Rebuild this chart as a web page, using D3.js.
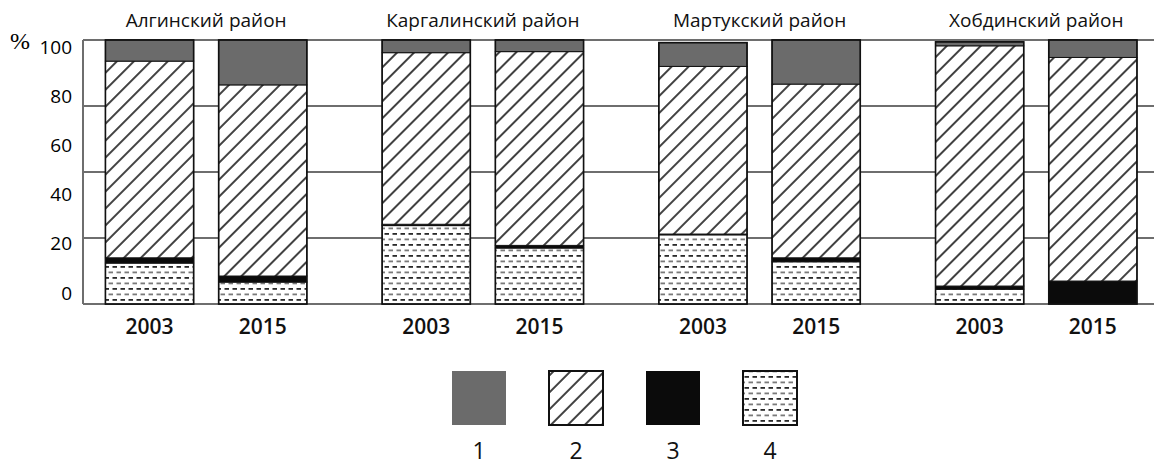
<!DOCTYPE html>
<html>
<head>
<meta charset="utf-8">
<script src="https://cdn.jsdelivr.net/npm/d3@7"></script>
<style>
  html, body { margin: 0; padding: 0; background: #fff; }
  svg { display: block; }
</style>
</head>
<body>
<svg id="chart" width="1154" height="466"></svg>
<script>
// ---- data ----
const districts = ["Алгинский район", "Каргалинский район", "Мартукский район", "Хобдинский район"];
const years = ["2003", "2015"];
// order of bars: Алг 2003, Алг 2015, Карг 2003, Карг 2015, Март 2003, Март 2015, Хобд 2003, Хобд 2015
const type1 = [8, 17, 4.8, 4.4, 9, 16.7, 1.5, 6.6];        // grey
const type2 = [74.5, 72.4, 65, 73.4, 63.5, 65.8, 91, 84.7]; // hatched
const type3 = [2, 2.3, 0.5, 1, 0.3, 1.5, 1.2, 8.7];         // black
const type4 = [15.5, 8.3, 29.7, 21.2, 26.2, 16, 5.6, 0];    // dotted
const yTickLabels = [0, 20, 40, 60, 80, 100];
const gridValues = [0, 25, 50, 75, 100];
const legendKeys = ["1", "2", "3", "4"];

const rows = type1.map((v, i) => ({
  district: districts[Math.floor(i / 2)],
  year: years[i % 2],
  t1: v, t2: type2[i], t3: type3[i], t4: type4[i]
}));

const svg = d3.select("#chart");
const defs = svg.append("defs");

// hatch pattern "/"
const hatch = defs.append("pattern").attr("id", "hatch")
  .attr("patternUnits", "userSpaceOnUse").attr("width", 12).attr("height", 12)
  .attr("patternTransform", "rotate(45)");
hatch.append("rect").attr("width", 12).attr("height", 12).attr("fill", "#fff");
hatch.append("line").attr("x1", 6).attr("y1", 0).attr("x2", 6).attr("y2", 12)
  .attr("stroke", "#111").attr("stroke-width", 1.6);

// dotted / dashed pattern
const dots = defs.append("pattern").attr("id", "dots")
  .attr("patternUnits", "userSpaceOnUse").attr("width", 8).attr("height", 11);
dots.append("rect").attr("width", 8).attr("height", 11).attr("fill", "#fff");
dots.append("rect").attr("x", 0.5).attr("y", 2).attr("width", 4.5).attr("height", 1.8).attr("fill", "#2a2a2a");
dots.append("rect").attr("x", 4.5).attr("y", 7.5).attr("width", 3.5).attr("height", 1.8).attr("fill", "#7a7a7a");
dots.append("rect").attr("x", 0).attr("y", 7.5).attr("width", 1).attr("height", 1.8).attr("fill", "#7a7a7a");

const fills = { t1: "#6b6b6b", t2: "url(#hatch)", t3: "#0b0b0b", t4: "url(#dots)" };

// ---- scales ----
const x0 = d3.scaleBand().domain(districts).range([67.8, 1174.6])
  .paddingInner(0.272).paddingOuter(0.136);
const x1 = d3.scaleBand().domain(years).range([0, x0.bandwidth()]).paddingInner(0.221).paddingOuter(0);
const y = d3.scaleLinear().domain([0, 100]).range([304, 40]);
const yLabel = d3.scaleLinear().domain([0, 100]).range([293, 47]);

// ---- gridlines ----
svg.append("g").selectAll("line").data(gridValues).join("line")
  .attr("x1", 83).attr("x2", 1154)
  .attr("y1", d => y(d)).attr("y2", d => y(d))
  .attr("stroke", "#6e6e6e").attr("stroke-width", 2);
svg.append("line").attr("x1", 83).attr("x2", 83).attr("y1", y(100)).attr("y2", y(0))
  .attr("stroke", "#6e6e6e").attr("stroke-width", 2);

// ---- y labels ----
const yAxis = svg.append("g").attr("transform", "translate(72,0)")
  .call(d3.axisLeft(yLabel).tickValues(yTickLabels).tickSize(0).tickPadding(0));
yAxis.select(".domain").remove();
yAxis.selectAll("text").attr("font-family", "'Open Sans', sans-serif")
  .attr("font-size", 19).attr("fill", "#000");
svg.append("text").attr("x", 10).attr("y", 49).text("%")
  .attr("font-family", "'Liberation Serif', serif").attr("font-size", 24).attr("fill", "#000");

// ---- bars ----
const stack = d3.stack().keys(["t4", "t3", "t2", "t1"]);
const series = stack(rows);
const bx = d => x0(d.data.district) + x1(d.data.year);

svg.append("g").selectAll("g").data(series).join("g")
  .attr("fill", s => fills[s.key])
  .selectAll("rect").data(s => s).join("rect")
  .attr("x", bx)
  .attr("width", x1.bandwidth())
  .attr("y", d => y(d[1]))
  .attr("height", d => y(d[0]) - y(d[1]))
  .attr("stroke", "#111").attr("stroke-width", 1);

// outline of each bar
svg.append("g").selectAll("rect").data(rows).join("rect")
  .attr("x", d => x0(d.district) + x1(d.year))
  .attr("width", x1.bandwidth())
  .attr("y", d => y(d.t1 + d.t2 + d.t3 + d.t4))
  .attr("height", d => y(0) - y(d.t1 + d.t2 + d.t3 + d.t4))
  .attr("fill", "none").attr("stroke", "#111").attr("stroke-width", 1.6);

// ---- district titles ----
svg.append("g").selectAll("text").data(districts).join("text")
  .attr("x", d => x0(d) + x0.bandwidth() / 2).attr("y", 27)
  .attr("text-anchor", "middle")
  .attr("font-family", "'Open Sans', sans-serif").attr("font-size", 19).attr("fill", "#111")
  .text(d => d);

// ---- year labels ----
svg.append("g").selectAll("text").data(rows).join("text")
  .attr("x", d => x0(d.district) + x1(d.year) + x1.bandwidth() / 2).attr("y", 334)
  .attr("text-anchor", "middle")
  .attr("font-family", "'Open Sans', sans-serif").attr("font-size", 21).attr("font-weight", 600)
  .attr("fill", "#111")
  .text(d => d.year);

// ---- legend ----
const lx = d3.scalePoint().domain(legendKeys).range([479, 770]);
const legendFill = { "1": fills.t1, "2": fills.t2, "3": fills.t3, "4": fills.t4 };
const lg = svg.append("g").selectAll("g").data(legendKeys).join("g");
lg.append("rect")
  .attr("x", d => lx(d) - 27).attr("y", 371).attr("width", 54).attr("height", 54)
  .attr("fill", d => legendFill[d])
  .attr("stroke", d => (d === "2" || d === "4") ? "#111" : "none")
  .attr("stroke-width", 2);
lg.append("text")
  .attr("x", d => lx(d)).attr("y", 459).attr("text-anchor", "middle")
  .attr("font-family", "'Open Sans', sans-serif").attr("font-size", 23).attr("fill", "#111")
  .text(d => d);
</script>
</body>
</html>
